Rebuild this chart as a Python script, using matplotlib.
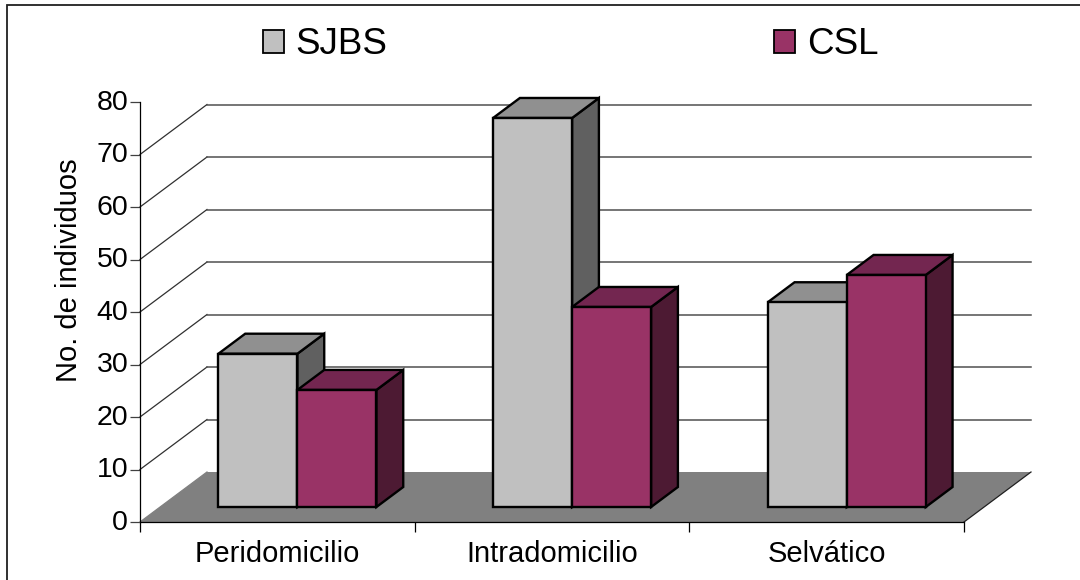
import matplotlib
matplotlib.use("Agg")
import matplotlib.pyplot as plt
from matplotlib.patches import Patch, Polygon
from matplotlib.transforms import ScaledTranslation

categories = ["Peridomicilio", "Intradomicilio", "Selvático"]
series_names = ["SJBS", "CSL"]
sjbs_values = [29.2, 74.1, 39.0]
csl_values = [22.3, 38.1, 44.2]
y_ticks = [0, 10, 20, 30, 40, 50, 60, 70, 80]

W, H = 1080, 580
plt.rcParams["font.family"] = ["Liberation Sans", "DejaVu Sans"]

fig = plt.figure(figsize=(W / 100, H / 100), dpi=100, facecolor="white")
# Axes rectangle is the front plane of the 3D box
ax = fig.add_axes([140 / W, 1 - 522 / H, 824 / W, 420 / H])
ax.set_xlim(0, 3)
ax.set_ylim(0, 80)
ax.patch.set_visible(False)

# Oblique projection offsets, in data units
DEPTH_X = 67 / 824 * 3
DEPTH_Y = 50 / 420 * 80
BAR_X = 0.30 * DEPTH_X
BAR_Y = 0.30 * DEPTH_Y
BAR_DX = 0.40 * DEPTH_X
BAR_DY = 0.40 * DEPTH_Y
BAR_W = 79 / 824 * 3
LW = 1.7


def poly(points, color, z, edge="none", lw=0):
    ax.add_patch(Polygon(points, closed=True, facecolor=color, edgecolor=edge,
                         linewidth=lw, joinstyle="miter", clip_on=False, zorder=z))


# Floor
poly([(0, 0), (3, 0), (3 + DEPTH_X, DEPTH_Y), (DEPTH_X, DEPTH_Y)], "#808080", 1)

# Back-wall gridlines with their diagonals on the side wall
for v in y_ticks[:-1]:
    ax.plot([0, DEPTH_X], [v, v + DEPTH_Y], color="#303030" if v else "#808080",
            lw=0.9, clip_on=False, zorder=2)
    if v:
        ax.plot([DEPTH_X, 3 + DEPTH_X], [v + DEPTH_Y, v + DEPTH_Y], color="#505050",
                lw=1.1, clip_on=False, zorder=2)
ax.plot([3, 3 + DEPTH_X], [0, DEPTH_Y], color="#202020", lw=0.9, clip_on=False, zorder=2)


def bar3d(left, value, front, top, side, z):
    x0 = left + BAR_X
    x1 = x0 + BAR_W
    y0 = BAR_Y
    y1 = BAR_Y + value
    poly([(x1, y0), (x1 + BAR_DX, y0 + BAR_DY), (x1 + BAR_DX, y1 + BAR_DY), (x1, y1)],
         side, z, "black", LW)
    poly([(x0, y1), (x1, y1), (x1 + BAR_DX, y1 + BAR_DY), (x0 + BAR_DX, y1 + BAR_DY)],
         top, z, "black", LW)
    poly([(x0, y0), (x1, y0), (x1, y1), (x0, y1)], front, z, "black", LW)


grey = ("#C0C0C0", "#909090", "#606060")
wine = ("#993366", "#732650", "#4D1A33")
for i in range(len(categories)):
    left = i + 0.5 - BAR_W
    bar3d(left, sjbs_values[i], *grey, 3 + 2 * i)
    bar3d(left + BAR_W, csl_values[i], *wine, 4 + 2 * i)

# Axes furniture
for name in ("top", "right"):
    ax.spines[name].set_visible(False)
for name in ("left", "bottom"):
    ax.spines[name].set_linewidth(0.9)
    ax.spines[name].set_zorder(20)
ax.set_yticks(y_ticks)
ax.tick_params(axis="y", labelsize=20.5, length=7, width=0.9, pad=3, color="#404040")
nudge = ScaledTranslation(1.5 / 72, 1.5 / 72, fig.dpi_scale_trans)
for label in ax.get_yticklabels():
    label.set_transform(label.get_transform() + nudge)
ax.set_xticks([0, 1, 2, 3])
ax.set_xticklabels([])
ax.tick_params(axis="x", length=7, width=0.9, direction="out")
for i, name in enumerate(categories):
    ax.annotate(name, xy=(i + 0.5, 0), xytext=(0, -29), textcoords="offset points",
                xycoords="data", ha="center", va="baseline", fontsize=21, color="black")
ax.set_ylabel("No. de individuos", fontsize=21)
ax.yaxis.set_label_coords(-0.069, (522 - 270) / 420)

# Legend across the top
handles = [Patch(facecolor=grey[0], edgecolor="black", linewidth=1.3),
           Patch(facecolor=wine[0], edgecolor="black", linewidth=1.3)]
fig.legend(handles, series_names, ncols=2, frameon=False, fontsize=26.5,
           loc="center left", bbox_to_anchor=(263 / W, 1 - 45 / H), handlelength=0.57,
           handleheight=0.57, handletextpad=0.32, columnspacing=10.5, borderpad=0,
           borderaxespad=0)

# Chart-area frame: left and top edges only
fig.add_artist(plt.Line2D([7 / W, 7 / W, 1], [0, 1 - 5 / H, 1 - 5 / H],
                          color="#202020", lw=1.3, solid_joinstyle="miter"))

fig.savefig("out.png", dpi=100)
